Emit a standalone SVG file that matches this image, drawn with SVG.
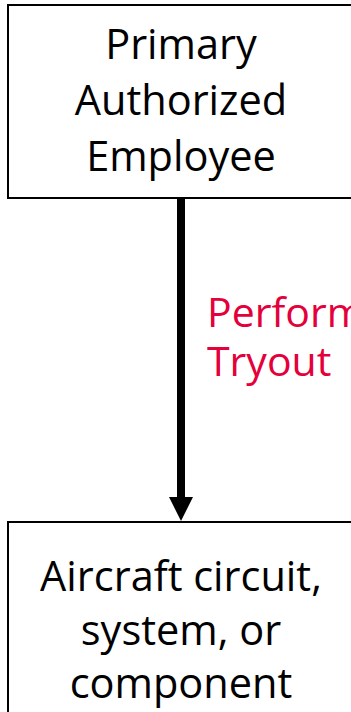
<svg xmlns="http://www.w3.org/2000/svg" width="351" height="712" viewBox="0 0 351 712">
  <style>
    .box { fill: #ffffff; stroke: #000000; stroke-width: 2; }
    .label { font-family: "Open Sans", "Liberation Sans", sans-serif; font-size: 41.5px; fill: #000000; text-anchor: middle; }
    .edge-label { font-family: "Open Sans", "Liberation Sans", sans-serif; font-size: 41px; fill: #e4003b; }
  </style>
  <rect width="351" height="712" fill="#ffffff"/>

  <g id="primary-employee">
    <rect class="box" x="8" y="5" width="360" height="193"/>
    <text class="label" x="181" y="59">Primary</text>
    <text class="label" x="181" y="115">Authorized</text>
    <text class="label" x="181" y="171">Employee</text>
  </g>

  <g id="aircraft-system">
    <rect class="box" x="8" y="522" width="360" height="210"/>
    <text class="label" x="181" y="591">Aircraft circuit,</text>
    <text class="label" x="181" y="645">system, or</text>
    <text class="label" x="181" y="698">component</text>
  </g>

  <g id="connectors">
    <line x1="181" y1="198" x2="181" y2="498" stroke="#000000" stroke-width="8"/>
    <polygon points="169,497 193,497 181,521" fill="#000000"/>
    <text class="edge-label" x="207" y="327">Perform</text>
    <text class="edge-label" x="207" y="376">Tryout</text>
  </g>
</svg>
